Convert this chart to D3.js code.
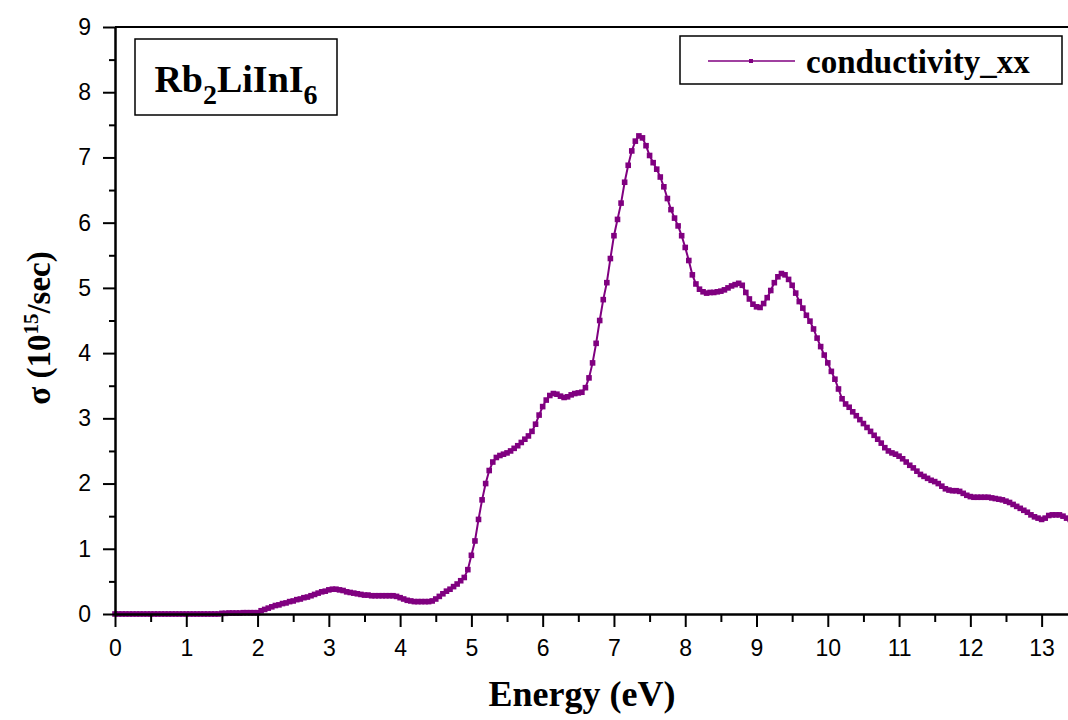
<!DOCTYPE html>
<html>
<head>
<meta charset="utf-8">
<script src="https://cdn.jsdelivr.net/npm/d3@7"></script>
<style>
  body { margin: 0; background: #fff; }
  svg { display: block; }
</style>
</head>
<body>
<svg id="chart" width="1068" height="720"></svg>
<script>
// energy grid starts at 0 eV, one value every 0.05 eV (one row = 1 eV)
const energyStep = 0.05;
const sigmaXX = [
  0,0,0,0,0,0,0,0,0,0,0,0,0,0,0,0,0,0,0,0,
  0,0,0,0,0,0,0,0,0,0,0.01,0.01,0.015,0.015,0.015,0.015,0.02,0.02,0.02,0.02,
  0.02,0.05,0.07,0.09,0.11,0.13,0.14,0.16,0.17,0.19,0.20,0.22,0.23,0.25,0.26,0.28,0.30,0.32,0.34,0.35,
  0.37,0.38,0.38,0.37,0.36,0.34,0.33,0.32,0.31,0.30,0.29,0.29,0.28,0.28,0.28,0.28,0.28,0.28,0.28,0.27,
  0.25,0.23,0.21,0.20,0.19,0.19,0.19,0.19,0.19,0.20,0.23,0.27,0.31,0.35,0.38,0.42,0.46,0.51,0.56,0.68,
  0.90,1.12,1.45,1.75,2.00,2.20,2.33,2.40,2.43,2.45,2.47,2.50,2.54,2.58,2.63,2.68,2.73,2.80,2.91,3.05,
  3.18,3.28,3.35,3.38,3.37,3.34,3.32,3.33,3.36,3.38,3.39,3.40,3.47,3.62,3.85,4.15,4.50,4.82,5.08,5.45,
  5.80,6.05,6.30,6.62,6.88,7.10,7.25,7.33,7.30,7.18,7.03,6.92,6.82,6.70,6.55,6.37,6.20,6.07,5.95,5.80,
  5.62,5.42,5.20,5.06,4.98,4.94,4.92,4.93,4.93,4.94,4.95,4.97,5.00,5.03,5.05,5.07,5.04,4.93,4.83,4.75,
  4.71,4.70,4.76,4.85,4.96,5.08,5.17,5.22,5.20,5.13,5.04,4.92,4.79,4.69,4.58,4.49,4.37,4.23,4.10,3.97,
  3.85,3.72,3.60,3.45,3.30,3.22,3.17,3.10,3.04,2.98,2.92,2.86,2.80,2.74,2.68,2.62,2.55,2.50,2.47,2.45,
  2.42,2.38,2.33,2.28,2.24,2.19,2.14,2.11,2.08,2.05,2.03,2.00,1.96,1.92,1.90,1.89,1.89,1.88,1.85,1.82,
  1.80,1.79,1.79,1.79,1.79,1.79,1.78,1.77,1.76,1.75,1.73,1.71,1.68,1.65,1.62,1.59,1.56,1.52,1.49,1.47,
  1.45,1.47,1.51,1.52,1.52,1.52,1.50,1.47,1.45
];
const xTicks = [0,1,2,3,4,5,6,7,8,9,10,11,12,13];
const xMinorTicks = [0.5,1.5,2.5,3.5,4.5,5.5,6.5,7.5,8.5,9.5,10.5,11.5,12.5];
const yTicks = [0,1,2,3,4,5,6,7,8,9];
const yMinorTicks = [0.5,1.5,2.5,3.5,4.5,5.5,6.5,7.5,8.5];
const seriesName = "conductivity_xx";

const purple = "#800080";
const svg = d3.select("#chart");
const plotLeft = 115, plotRight = 1068, plotTop = 27, plotBottom = 614;

const x = d3.scaleLinear().domain([0, 13.37]).range([plotLeft, plotRight]);
const y = d3.scaleLinear().domain([0, 9]).range([plotBottom, plotTop]);

const points = sigmaXX.map((v, i) => ({ e: +(i * energyStep).toFixed(2), s: v }));

// clip so the last points don't spill past the frame
svg.append("clipPath").attr("id", "plotclip")
  .append("rect").attr("x", plotLeft - 4).attr("y", plotTop - 4)
  .attr("width", plotRight - plotLeft + 4).attr("height", plotBottom - plotTop + 8);

const plot = svg.append("g").attr("clip-path", "url(#plotclip)");

plot.append("path")
  .datum(points)
  .attr("fill", "none")
  .attr("stroke", purple)
  .attr("stroke-width", 2)
  .attr("d", d3.line().x(d => x(d.e)).y(d => y(d.s)));

plot.selectAll("rect.pt")
  .data(points)
  .enter()
  .append("rect")
  .attr("class", "pt")
  .attr("x", d => x(d.e) - 2.8)
  .attr("y", d => y(d.s) - 2.8)
  .attr("width", 5.6)
  .attr("height", 5.6)
  .attr("fill", purple);

// axes
const styleAxis = g => {
  g.select(".domain").attr("stroke", "#000").attr("stroke-width", 2);
  g.selectAll(".tick line").attr("stroke", "#000").attr("stroke-width", 2);
  g.selectAll(".tick text")
    .attr("fill", "#000")
    .style("font-family", "'Liberation Sans', Arial, sans-serif")
    .style("font-size", "23px");
};

svg.append("g")
  .attr("transform", `translate(0,${plotBottom})`)
  .call(d3.axisBottom(x).tickValues(xMinorTicks).tickSize(8).tickSizeOuter(0).tickFormat(""))
  .call(styleAxis);
svg.append("g")
  .attr("transform", `translate(0,${plotBottom})`)
  .call(d3.axisBottom(x).tickValues(xTicks).tickSize(13).tickSizeOuter(0).tickPadding(13).tickFormat(d3.format("d")))
  .call(styleAxis);

svg.append("g")
  .attr("transform", `translate(${plotLeft},0)`)
  .call(d3.axisLeft(y).tickValues(yMinorTicks).tickSize(6).tickSizeOuter(0).tickFormat(""))
  .call(styleAxis);
svg.append("g")
  .attr("transform", `translate(${plotLeft},0)`)
  .call(d3.axisLeft(y).tickValues(yTicks).tickSize(12).tickSizeOuter(0).tickPadding(12).tickFormat(d3.format("d")))
  .call(styleAxis);

// top frame line
svg.append("line")
  .attr("x1", plotLeft).attr("x2", plotRight)
  .attr("y1", y(9)).attr("y2", y(9))
  .attr("stroke", "#000").attr("stroke-width", 2);

const serif = "'Liberation Serif', 'Times New Roman', serif";

// axis titles
svg.append("text")
  .attr("x", 582).attr("y", 706)
  .attr("text-anchor", "middle")
  .style("font-family", serif).style("font-weight", "bold").style("font-size", "36px")
  .text("Energy (eV)");

const yTitle = svg.append("text")
  .attr("transform", "translate(50,328) rotate(-90)")
  .attr("text-anchor", "middle")
  .style("font-family", serif).style("font-weight", "bold").style("font-size", "33px");
yTitle.append("tspan").text("σ (10");
yTitle.append("tspan").attr("dy", -12).style("font-size", "21px").text("15");
yTitle.append("tspan").attr("dy", 12).text("/sec)");

// compound label box
svg.append("rect")
  .attr("x", 135).attr("y", 39).attr("width", 202).attr("height", 76)
  .attr("fill", "#fff").attr("stroke", "#000").attr("stroke-width", 1.5);
const formula = svg.append("text")
  .attr("x", 236).attr("y", 92)
  .attr("text-anchor", "middle")
  .style("font-family", serif).style("font-weight", "bold").style("font-size", "38px");
formula.append("tspan").text("Rb");
formula.append("tspan").attr("dy", 12).style("font-size", "28px").text("2");
formula.append("tspan").attr("dy", -12).text("LiInI");
formula.append("tspan").attr("dy", 12).style("font-size", "28px").text("6");

// legend
svg.append("rect")
  .attr("x", 680).attr("y", 36).attr("width", 382).attr("height", 48)
  .attr("fill", "#fff").attr("stroke", "#000").attr("stroke-width", 1.5);
svg.append("line")
  .attr("x1", 708).attr("x2", 795).attr("y1", 61).attr("y2", 61)
  .attr("stroke", purple).attr("stroke-width", 1.5);
svg.append("rect")
  .attr("x", 749).attr("y", 59).attr("width", 4).attr("height", 4)
  .attr("fill", purple);
svg.append("text")
  .attr("x", 806).attr("y", 73)
  .style("font-family", serif).style("font-weight", "bold").style("font-size", "33px")
  .text(seriesName);
</script>
</body>
</html>
